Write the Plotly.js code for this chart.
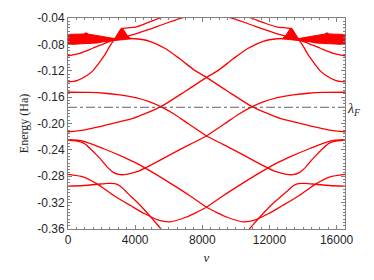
<!DOCTYPE html>
<html>
<head>
<meta charset="utf-8">
<script src="https://cdn.plot.ly/plotly-3.0.1.min.js"></script>
<style>html,body{margin:0;padding:0;background:#fff;}#chart{width:374px;height:280px;}</style>
</head>
<body>
<div id="chart"></div>
<script>
// ---- data (x = nu, y = energy in Ha) ----
const lambdaF = -0.1754;
const lamX = [0, 16500];
const lamY = [lambdaF, lambdaF];

// dense band of states near -0.07 (outline: upper edge, spike, lower edge back)
const bandLX = [0, 578, 936, 1085, 1234, 1728, 2128, 2527, 2843, 3022, 3200, 3350, 3516, 3735, 3081, 2783, 2527, 2128, 1728, 936, 0];
const bandRX = [16500, 15922, 15564, 15415, 15266, 14772, 14372, 13973, 13657, 13478, 13300, 13150, 12984, 12765, 13419, 13717, 13973, 14372, 14772, 15564, 16500];
const bandY  = [-0.0649, -0.0648, -0.0642, -0.0624, -0.0646, -0.0666, -0.0681, -0.0700, -0.0715, -0.0616, -0.0548, -0.0593, -0.0662, -0.0715, -0.0730, -0.0735, -0.0744, -0.0760, -0.0779, -0.0795, -0.0803];

// curve A (from -0.097)
const aLX = [0, 697, 1472, 2128, 2724, 3379, 4035, 4869, 5763, 6836, 7373];
const aRX = [16500, 15803, 15028, 14372, 13776, 13121, 12465, 11631, 10737, 9664, 9127];
const aY  = [-0.0973, -0.0935, -0.0859, -0.0791, -0.0730, -0.0684, -0.0639, -0.0570, -0.0487, -0.0395, -0.0354];
// curve B (from -0.137, steep)
const bLX = [0, 536, 1132, 1472, 1728, 1979, 2229, 2485, 2724, 2963, 3171, 3439, 4035, 4750, 5525, 6180];
const bRX = [16500, 15964, 15368, 15028, 14772, 14521, 14271, 14015, 13776, 13537, 13329, 13061, 12465, 11650, 10850, 10200];
const bY  = [-0.1369, -0.1349, -0.1273, -0.1202, -0.1121, -0.1034, -0.0943, -0.0829, -0.0738, -0.0646, -0.0570, -0.0552, -0.0537, -0.0471, -0.0395, -0.0342];
// curve C (flat -0.153 then down)
const cLX = [0, 1293, 2187, 3081, 4035, 4869, 5525, 6359, 7193, 8250];
const cRX = [16500, 15207, 14313, 13419, 12465, 11631, 10975, 10141, 9307, 8250];
const cY  = [-0.1526, -0.1529, -0.1541, -0.1567, -0.1609, -0.1673, -0.1745, -0.1863, -0.2008, -0.2190];
// curve D (from -0.213 rising)
const dLX = [0, 936, 1889, 2783, 3874, 4691, 5525, 7015, 8250];
const dRX = [16500, 15564, 14611, 13717, 12626, 11809, 10975, 9485, 8250];
const dY  = [-0.2125, -0.2099, -0.2049, -0.1989, -0.1921, -0.1840, -0.1745, -0.1506, -0.1300];
// curve E (lower edge of band, descending)
const eLX = [1591, 2724, 3379, 4035, 4869, 5763, 6657, 7551, 8250];
const eRX = [14909, 13776, 13121, 12465, 11631, 10737, 9843, 8949, 8250];
const eY  = [-0.0745, -0.0722, -0.0712, -0.0715, -0.0753, -0.0859, -0.1019, -0.1194, -0.1300];
// curve F (from -0.224, gently down)
const fLX = [0, 936, 2128, 3320, 4154, 5167, 6180, 7253, 8250];
const fRX = [16500, 15564, 14372, 13180, 12346, 11333, 10320, 9247, 8250];
const fY  = [-0.2243, -0.2271, -0.2383, -0.2510, -0.2612, -0.2761, -0.2920, -0.3095, -0.3270];
// curve G (from -0.225, dip to -0.278, up)
const gLX = [0, 459, 936, 1353, 1728, 2068, 2366, 2724, 3111, 3558, 4154, 4869, 5763, 6657, 7551, 8250];
const gRX = [16500, 16041, 15564, 15147, 14772, 14432, 14134, 13776, 13389, 12942, 12346, 11631, 10737, 9843, 8949, 8250];
const gY  = [-0.2251, -0.2263, -0.2297, -0.2388, -0.2484, -0.2578, -0.2669, -0.2745, -0.2776, -0.2768, -0.2727, -0.2639, -0.2517, -0.2396, -0.2281, -0.2190];
// curve H (from -0.277 down to -0.349)
const hLX = [0, 936, 1728, 2724, 3719, 4571, 5346, 6061, 7015, 7730, 8250];
const hRX = [16500, 15564, 14772, 13776, 12781, 11929, 11154, 10439, 9485, 8770, 8250];
const hY  = [-0.2773, -0.2814, -0.2916, -0.3092, -0.3244, -0.3369, -0.3460, -0.3491, -0.3422, -0.3339, -0.3270];
// curve I (flat -0.295 then steep down)
const iLX = [0, 936, 1728, 2366, 2783, 3081, 3379, 3737, 4154, 4869, 5525, 5942];
const iRX = [16500, 15564, 14772, 14134, 13717, 13419, 13121, 12700, 12250, 11500, 10820, 10400];
const iY  = [-0.2951, -0.2940, -0.2923, -0.2908, -0.2911, -0.2943, -0.3012, -0.3103, -0.3202, -0.3399, -0.3594, -0.3711];

const xTicks = [0, 4000, 8000, 12000, 16000];
const xTickText = ['0', '4000', '8000', '12000', '16000'];
const yTicks = [-0.36, -0.32, -0.28, -0.24, -0.20, -0.16, -0.12, -0.08, -0.04];
const yTickText = ['-0.36', '-0.32', '-0.28', '-0.24', '-0.20', '-0.16', '-0.12', '-0.08', '-0.04'];

// ---- traces ----
const RED = '#ff0000';
const traces = [];
[bandLX, bandRX].forEach(bx => traces.push({
  x: bx, y: bandY, type: 'scatter', mode: 'lines', fill: 'toself',
  fillcolor: RED, line: {color: RED, width: 1}, hoverinfo: 'skip'
}));
const curves = [
  [aLX, aY], [aRX, aY], [bLX, bY], [bRX, bY], [cLX, cY], [cRX, cY],
  [dLX, dY], [dRX, dY], [eLX, eY], [eRX, eY], [fLX, fY], [fRX, fY],
  [gLX, gY], [gRX, gY], [hLX, hY], [hRX, hY], [iLX, iY], [iRX, iY]
];
curves.forEach(c => traces.push({
  x: c[0], y: c[1], type: 'scatter', mode: 'lines',
  line: {color: RED, width: 1.3, shape: 'spline', smoothing: 0.8}, hoverinfo: 'skip'
}));
traces.push({
  x: lamX, y: lamY, type: 'scatter', mode: 'lines',
  line: {color: '#505050', width: 0.9, dash: 'dashdot'}, hoverinfo: 'skip'
});

const AX = '#808080';
const layout = {
  width: 374, height: 280,
  margin: {l: 68, r: 29, t: 18, b: 51},
  paper_bgcolor: '#ffffff', plot_bgcolor: '#ffffff',
  showlegend: false,
  xaxis: {
    range: [0, 16500], tickmode: 'array', tickvals: xTicks, ticktext: xTickText,
    ticks: 'inside', ticklen: 4, tickcolor: AX, tickwidth: 1,
    showline: true, linecolor: AX, linewidth: 1, mirror: 'allticks',
    showgrid: false, zeroline: false,
    minor: {ticks: 'inside', ticklen: 2, tickmode: 'linear', tick0: 0, dtick: 500, tickcolor: AX, showgrid: false},
    tickfont: {family: 'Liberation Sans, Arial, sans-serif', size: 12, color: '#262626'},
    title: {text: '<i>ν</i>', font: {family: 'Liberation Serif, serif', size: 13, color: '#262626'}, standoff: 6}
  },
  yaxis: {
    range: [-0.36, -0.04], tickmode: 'array', tickvals: yTicks, ticktext: yTickText,
    ticks: 'inside', ticklen: 4, tickcolor: AX, tickwidth: 1,
    showline: true, linecolor: AX, linewidth: 1, mirror: 'allticks',
    showgrid: false, zeroline: false,
    minor: {ticks: 'inside', ticklen: 2, tickmode: 'linear', tick0: -0.36, dtick: 0.005, tickcolor: AX, showgrid: false},
    tickfont: {family: 'Liberation Sans, Arial, sans-serif', size: 12, color: '#262626'},
    title: {text: 'Energy (Ha)', font: {family: 'Liberation Serif, serif', size: 12, color: '#262626'}, standoff: 6}
  },
  annotations: [{
    x: 1, xref: 'paper', xanchor: 'left', xshift: 0,
    y: lambdaF, yref: 'y', yanchor: 'middle', yshift: -2,
    text: '<i>λ</i><sub><i>F</i></sub>', showarrow: false,
    font: {family: 'Liberation Serif, serif', size: 14, color: '#262626'}
  }]
};

Plotly.newPlot('chart', traces, layout, {staticPlot: true, displayModeBar: false});
</script>
</body>
</html>
